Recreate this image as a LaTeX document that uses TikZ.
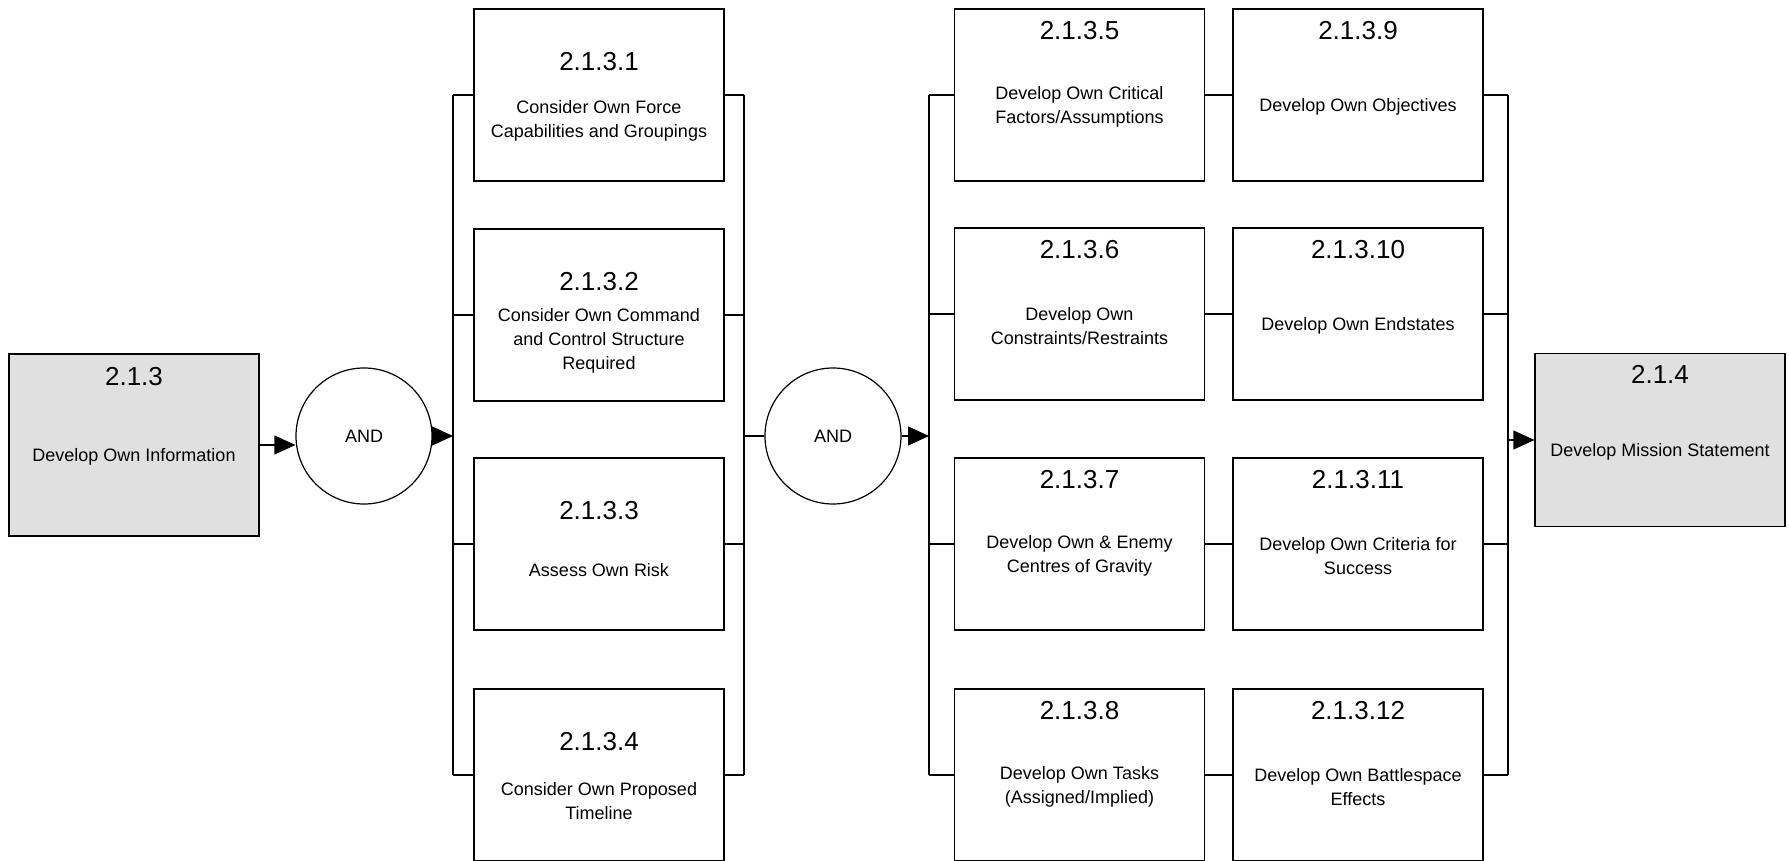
\documentclass[tikz,border=0pt]{standalone}
\usepackage{fontspec}
\setmainfont{Liberation Sans}
\usetikzlibrary{arrows.meta,positioning}
\definecolor{boxgray}{RGB}{224,224,224}
\tikzset{
    task box/.style={
        draw,line width=.6pt,fill=white,
        minimum width=125pt,minimum height=86pt,inner sep=0pt
    },
    outer task/.style={task box,fill=boxgray},
    and gate/.style={
        draw,circle,line width=.6pt,fill=white,
        minimum size=68pt,inner sep=0pt,
        font=\fontsize{9}{11}\selectfont
    },
    task number/.style={font=\fontsize{13}{15}\selectfont,inner sep=0pt},
    task text/.style={font=\fontsize{9}{12}\selectfont,align=center,inner sep=0pt},
    bus/.style={line width=.6pt},
    >={Triangle[length=10.5pt,width=9.5pt]}
}
\begin{document}
\begin{tikzpicture}[x=.5pt,y=-.5pt]
\useasboundingbox (0,0) rectangle (1789,861);
% start and end tasks
\node[outer task,minimum height=91pt] (info) at (134,445) {};
\node[task number] at ([yshift=-11.5pt]info.north) {2.1.3};
\node[task text] at ([yshift=-6pt]info.center) {Develop Own Information};
\node[outer task,minimum height=86.5pt] (mission) at (1660,440) {};
\node[task number] at ([yshift=-11pt]mission.north) {2.1.4};
\node[task text] at ([yshift=-6pt]mission.center) {Develop Mission Statement};
% and gates
\node[and gate] (and_a) at (364,436) {AND};
\node[and gate] (and_b) at (833,436) {AND};
\coordinate (bus_a) at (453,436);
\coordinate (bus_b) at (744,436);
\coordinate (bus_c) at (929,436);
\coordinate (bus_d) at (1508,440);
% first group
\foreach \i/\y/\txt in {1/95/{Consider Own Force\\Capabilities and Groupings},
    2/315/{Consider Own Command\\and Control Structure\\Required},
    3/544/{Assess Own Risk},
    4/775/{Consider Own Proposed\\Timeline}} {
    \node[task box] (own_\i) at (599,\y) {};
    \node[task number] at ([yshift=-26.5pt]own_\i.north) {2.1.3.\i};
    \node[task text] at ([yshift=-13pt]own_\i.center) {\txt};
    \draw[bus] (own_\i.west -| bus_a) -- (own_\i.west);
    \draw[bus] (own_\i.east) -- (own_\i.east -| bus_b);
}
\draw[bus] (own_1.west -| bus_a) -- (own_4.west -| bus_a);
\draw[bus] (own_1.east -| bus_b) -- (own_4.east -| bus_b);
% second group
\foreach \i/\j/\y/\txta/\txtb in {5/9/95/{Develop Own Critical\\Factors/Assumptions}/{Develop Own Objectives},
    6/10/314/{Develop Own\\Constraints/Restraints}/{Develop Own Endstates},
    7/11/544/{Develop Own \& Enemy\\Centres of Gravity}/{Develop Own Criteria for\\Success},
    8/12/775/{Develop Own Tasks\\(Assigned/Implied)}/{Develop Own Battlespace\\Effects}} {
    \node[task box] (dev_\i) at (1079.5,\y) {};
    \node[task number] at ([yshift=-11pt]dev_\i.north) {2.1.3.\i};
    \node[task text] at ([yshift=-6pt]dev_\i.center) {\txta};
    \node[task box] (dev_\j) at (1358,\y) {};
    \node[task number] at ([yshift=-11pt]dev_\j.north) {2.1.3.\j};
    \node[task text] at ([yshift=-6pt]dev_\j.center) {\txtb};
    \draw[bus] (dev_\i.west -| bus_c) -- (dev_\i.west);
    \draw[bus] (dev_\i.east) -- (dev_\j.west);
    \draw[bus] (dev_\j.east) -- (dev_\j.east -| bus_d);
}
\draw[bus] (dev_5.west -| bus_c) -- (dev_8.west -| bus_c);
\draw[bus] (dev_9.east -| bus_d) -- (dev_12.east -| bus_d);
% flow
\draw[bus,->] (info.east) -- (info.east -| and_a.west);
\draw[bus,->] (and_a.east) -- (bus_a);
\draw[bus] (bus_b) -- (and_b.west);
\draw[bus,->] (and_b.east) -- (bus_c);
\draw[bus,->] (bus_d) -- (mission.west);
\end{tikzpicture}
\end{document}
